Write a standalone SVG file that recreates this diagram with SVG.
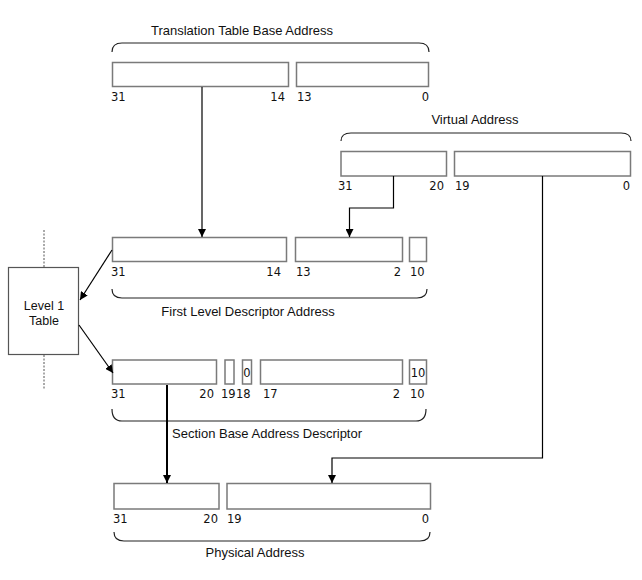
<svg xmlns="http://www.w3.org/2000/svg" width="642" height="580" viewBox="0 0 642 580">
<style>
.fld{fill:#fff;stroke:#7a7a7a;stroke-width:1.5}
.brace{fill:none;stroke:#222;stroke-width:1.2}
.num{font-family:"DejaVu Sans",sans-serif;font-size:11.5px;fill:#111}
.lbl{font-family:"Liberation Sans",Arial,sans-serif;font-size:13px;fill:#111}
.tbl{font-family:"Liberation Sans",Arial,sans-serif;font-size:12.5px;fill:#111}
.conn{fill:none;stroke:#000;stroke-width:1.2}
.thick{stroke-width:2}
</style>
<defs>
<marker id="ah" viewBox="0 0 10 10" refX="10" refY="5" markerWidth="8" markerHeight="8" markerUnits="userSpaceOnUse" orient="auto">
<path d="M0,0 L10,5 L0,10 z" fill="#000"/>
</marker>
</defs>
<rect width="642" height="580" fill="#fff"/>

<g id="ttba">
<text class="lbl" x="242" y="35" text-anchor="middle">Translation Table Base Address</text>
<path class="brace" d="M112,52 Q112,43 122,43 L419,43 Q429,43 429,52"/>
<rect class="fld" x="112.5" y="62.5" width="176" height="24"/>
<rect class="fld" x="296.5" y="62.5" width="132" height="24"/>
<text class="num" x="111" y="101">31</text>
<text class="num" x="285" y="101" text-anchor="end">14</text>
<text class="num" x="297" y="101">13</text>
<text class="num" x="429" y="101" text-anchor="end">0</text>
</g>

<g id="va">
<text class="lbl" x="475" y="124" text-anchor="middle">Virtual Address</text>
<path class="brace" d="M341,141 Q341,133 351,133 L621,133 Q631,133 631,141"/>
<rect class="fld" x="341" y="151.5" width="105.5" height="24.5"/>
<rect class="fld" x="454.5" y="151.5" width="176" height="24.5"/>
<text class="num" x="338" y="190">31</text>
<text class="num" x="444" y="190" text-anchor="end">20</text>
<text class="num" x="455" y="190">19</text>
<text class="num" x="630" y="190" text-anchor="end">0</text>
</g>

<g id="fld">
<rect class="fld" x="112.5" y="237.5" width="174" height="24"/>
<rect class="fld" x="295.5" y="237.5" width="107" height="24"/>
<rect class="fld" x="409.5" y="237.5" width="17" height="24"/>
<text class="num" x="111" y="276">31</text>
<text class="num" x="281" y="276" text-anchor="end">14</text>
<text class="num" x="296" y="276">13</text>
<text class="num" x="401" y="276" text-anchor="end">2</text>
<text class="num" x="410" y="276">10</text>
<path class="brace" d="M112,289 Q112,298 122,298 L417,298 Q427,298 427,289"/>
<text class="lbl" x="248" y="316" text-anchor="middle">First Level Descriptor Address</text>
</g>

<g id="l1table">
<line x1="44" y1="230" x2="44" y2="267" stroke="#555" stroke-width="1" stroke-dasharray="2,1.5"/>
<line x1="44" y1="355" x2="44" y2="390" stroke="#555" stroke-width="1" stroke-dasharray="2,1.5"/>
<rect x="8.5" y="267.5" width="70" height="87" fill="#fff" stroke="#555" stroke-width="1.2"/>
<text class="tbl" x="44" y="310" text-anchor="middle">Level 1</text>
<text class="tbl" x="44" y="325" text-anchor="middle">Table</text>
</g>

<g id="sbad">
<rect class="fld" x="112.5" y="360" width="104" height="24"/>
<rect class="fld" x="225" y="360" width="9" height="24"/>
<rect class="fld" x="242.5" y="360" width="9" height="24"/>
<text class="num" x="247" y="377" text-anchor="middle">0</text>
<rect class="fld" x="260.5" y="360" width="142" height="24"/>
<rect class="fld" x="409.5" y="360" width="17" height="24"/>
<text class="num" x="418" y="377" text-anchor="middle">10</text>
<text class="num" x="111" y="398">31</text>
<text class="num" x="214" y="398" text-anchor="end">20</text>
<text class="num" x="221" y="398">19</text>
<text class="num" x="236" y="398">18</text>
<text class="num" x="263" y="398">17</text>
<text class="num" x="400" y="398" text-anchor="end">2</text>
<text class="num" x="410" y="398">10</text>
<path class="brace" d="M112,409 Q112,421 122,421 L416,421 Q426,421 426,409"/>
<text class="lbl" x="172" y="438">Section Base Address Descriptor</text>
</g>

<g id="pa">
<rect class="fld" x="114" y="483.5" width="105" height="25.5"/>
<rect class="fld" x="227" y="483.5" width="203.5" height="25.5"/>
<text class="num" x="113" y="523">31</text>
<text class="num" x="218" y="523" text-anchor="end">20</text>
<text class="num" x="227" y="523">19</text>
<text class="num" x="429" y="523" text-anchor="end">0</text>
<path class="brace" d="M114,532 Q114,541 124,541 L420,541 Q430,541 430,532"/>
<text class="lbl" x="255" y="557" text-anchor="middle">Physical Address</text>
</g>

<g id="connectors">
<path class="conn" d="M202,87 L202,237" marker-end="url(#ah)"/>
<path class="conn" d="M393.5,176 L393.5,208 L349.5,208 L349.5,237" marker-end="url(#ah)"/>
<path class="conn" d="M112,250 L80,300" marker-end="url(#ah)"/>
<path class="conn" d="M79,325 L113,373" marker-end="url(#ah)"/>
<path class="conn thick" d="M167,385 L167,483" marker-end="url(#ah)"/>
<path class="conn" d="M542.5,176 L542.5,458 L332,458 L332,483" marker-end="url(#ah)"/>
</g>
</svg>
